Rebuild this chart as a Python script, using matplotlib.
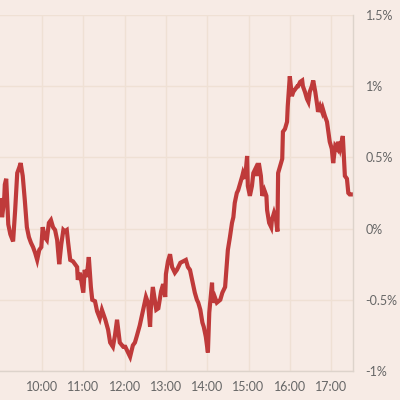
import matplotlib
matplotlib.use("Agg")
import matplotlib.pyplot as plt

# minutes after 09:00 and change in percent
minutes = [0, 2, 5, 6, 8, 9, 11, 14, 18, 21, 24, 27, 29, 32, 35, 38, 41, 44,
           47, 50, 53, 56, 59, 61, 64, 67, 70, 73, 76, 79, 82, 85, 88, 91, 93,
           96, 98, 101, 105, 108, 111, 112, 115, 120, 122, 125, 128, 131, 133,
           137, 140, 144, 147, 152, 156, 159, 163, 166, 169, 173, 178, 181,
           185, 188, 192, 195, 198, 202, 207, 211, 214, 217, 218, 221, 226,
           229, 233, 236, 239, 240, 243, 246, 249, 253, 256, 261, 265, 269,
           272, 275, 278, 282, 285, 287, 290, 293, 295, 298, 300, 301, 303,
           306, 307, 308, 311, 314, 319, 322, 326, 329, 330, 333, 336, 338,
           340, 343, 345, 348, 351, 352, 355, 358, 359, 362, 365, 367, 370,
           372, 375, 378, 380, 383, 386, 387, 390, 393, 394, 397, 400, 402,
           403, 406, 409, 410, 413, 416, 417, 420, 423, 425, 428, 431, 432,
           435, 438, 439, 442, 445, 447, 449, 452, 454, 457, 460, 461, 464,
           467, 468, 471, 474, 476, 478, 481, 483, 486, 489, 490, 493, 496,
           497, 500, 503, 505, 507, 510]
change = [0.20, 0.08, 0.20, 0.31, 0.35, 0.24, 0.03, -0.04, -0.09, 0.13, 0.39,
          0.43, 0.46, 0.37, 0.20, 0.01, -0.06, -0.10, -0.13, -0.17, -0.22,
          -0.15, -0.13, 0.01, -0.06, -0.08, 0.04, 0.06, 0.01, -0.01, -0.08,
          -0.25, -0.11, -0.01, -0.02, -0.01, -0.10, -0.22, -0.23, -0.25,
          -0.27, -0.36, -0.31, -0.45, -0.29, -0.34, -0.20, -0.41, -0.50,
          -0.51, -0.58, -0.63, -0.57, -0.64, -0.71, -0.80, -0.83, -0.75,
          -0.64, -0.80, -0.83, -0.83, -0.87, -0.90, -0.82, -0.80, -0.75,
          -0.68, -0.57, -0.48, -0.52, -0.69, -0.57, -0.41, -0.57, -0.56,
          -0.44, -0.39, -0.48, -0.32, -0.23, -0.18, -0.27, -0.31, -0.29,
          -0.24, -0.23, -0.22, -0.27, -0.29, -0.36, -0.45, -0.50, -0.52,
          -0.57, -0.66, -0.69, -0.76, -0.83, -0.87, -0.59, -0.43, -0.38,
          -0.52, -0.48, -0.52, -0.50, -0.45, -0.41, -0.22, -0.15, -0.06,
          0.04, 0.08, 0.18, 0.25, 0.27, 0.32, 0.37, 0.39, 0.35, 0.51, 0.30,
          0.23, 0.30, 0.39, 0.42, 0.37, 0.46, 0.37, 0.23, 0.27, 0.23, 0.13,
          0.04, 0.01, 0.06, 0.11, 0.06, -0.02, 0.39, 0.44, 0.49, 0.68, 0.70,
          0.75, 0.86, 1.07, 0.93, 0.96, 0.98, 1.00, 1.00, 1.03, 1.04, 1.00,
          0.96, 0.91, 0.89, 0.96, 1.00, 1.04, 0.96, 0.86, 0.82, 0.86, 0.82,
          0.84, 0.79, 0.75, 0.68, 0.61, 0.56, 0.46, 0.58, 0.56, 0.61, 0.56,
          0.63, 0.65, 0.37, 0.35, 0.25, 0.24, 0.24]

hour_ticks = [10, 11, 12, 13, 14, 15, 16, 17]
hour_labels = ["10:00", "11:00", "12:00", "13:00", "14:00", "15:00", "16:00", "17:00"]
pct_ticks = [-1, -0.5, 0, 0.5, 1, 1.5]
pct_labels = ["-1%", "-0.5%", "0%", "0.5%", "1%", "1.5%"]

bg = "#f7ebe5"
hours = [9 + m / 60 for m in minutes]

fig = plt.figure(figsize=(4, 4), dpi=100, facecolor=bg)
ax = fig.add_axes([0.0, 0.0725, 0.8825, 0.89])
ax.set_facecolor(bg)

ax.plot(hours, change, color="#bf3a3a", lw=3.0, solid_joinstyle="miter")

ax.set_xlim(8.983, 17.53)
ax.set_ylim(-1, 1.5)
ax.set_xticks(hour_ticks)
ax.set_xticklabels(hour_labels)
ax.set_yticks(pct_ticks)
ax.set_yticklabels(pct_labels)
ax.yaxis.tick_right()
ax.tick_params(length=0, labelsize=9, labelcolor="#666666", pad=9)
ax.tick_params(axis="x", pad=7)
for lab in ax.get_xticklabels() + ax.get_yticklabels():
    lab.set_family("Lato")

ax.grid(True, color="#efe0d4", lw=1)
ax.set_axisbelow(True)
for side in ["top", "left"]:
    ax.spines[side].set_visible(False)
for side in ["right", "bottom"]:
    ax.spines[side].set_color("#ddd3cb")
    ax.spines[side].set_linewidth(1)

plt.savefig("out.png", dpi=100, facecolor=bg)
